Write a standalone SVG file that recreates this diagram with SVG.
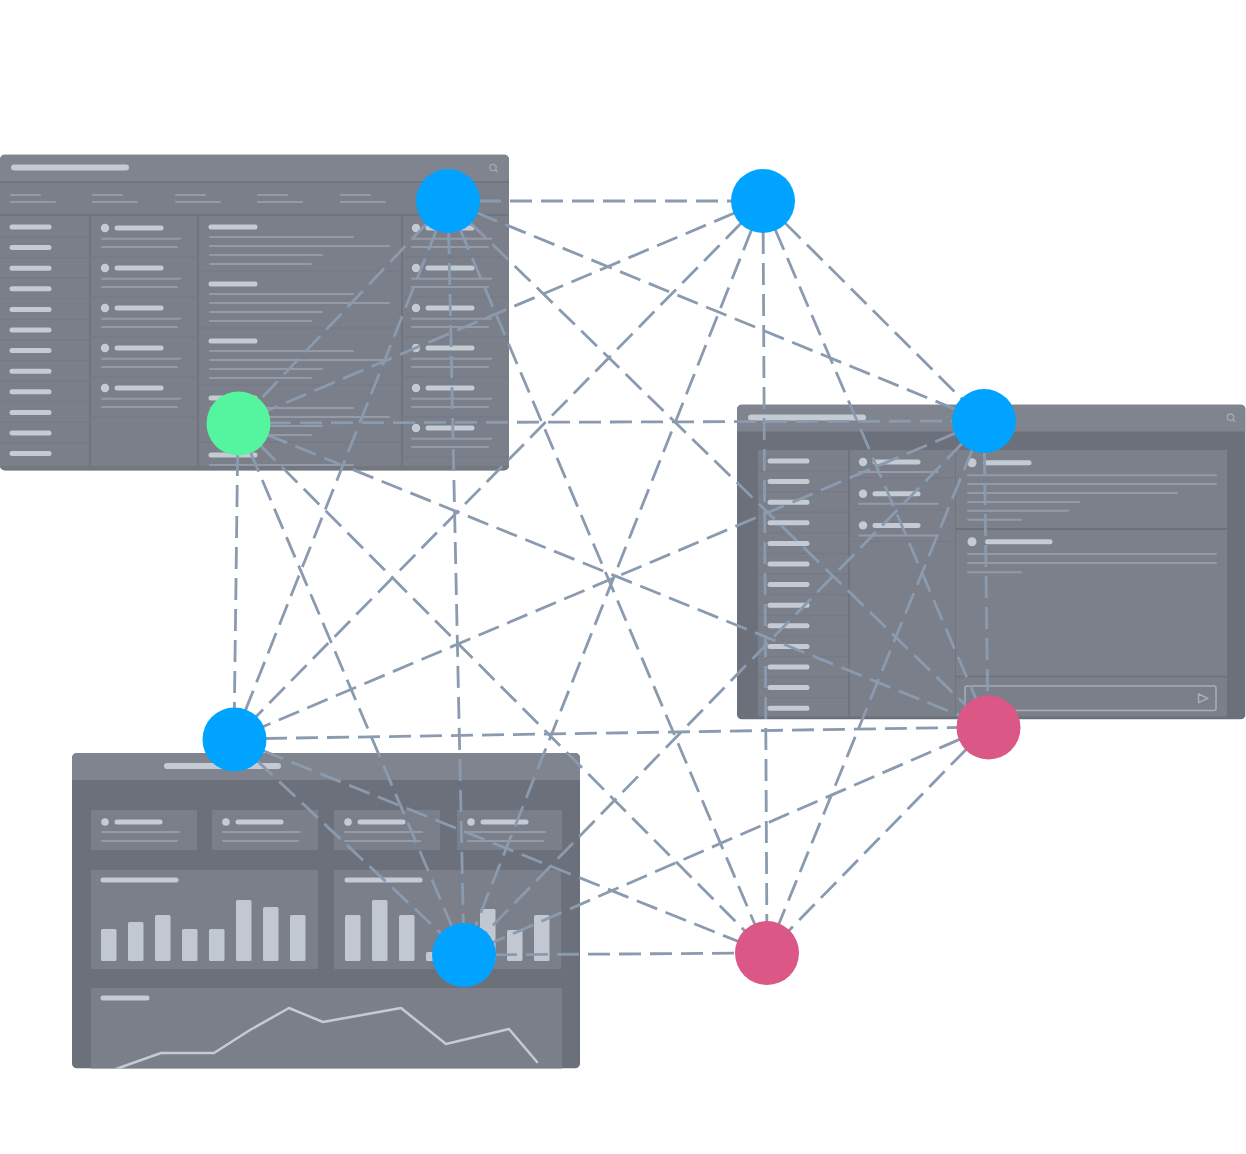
<svg xmlns="http://www.w3.org/2000/svg" width="1246" height="1154" viewBox="0 0 1246 1154">
<style>
.frame{fill:#6c707a}
.base{fill:#7b7f8a}
.hdr{fill:#80848e}
.card{fill:#7c808b}
.sep{stroke:#6d717b;stroke-width:1.5}
.rowsep{stroke:#757984;stroke-width:1}
.hb{stroke:#c4cbd3;stroke-width:5;stroke-linecap:round}
.tb{stroke:#c4cbd3;stroke-width:6;stroke-linecap:round}
.ln{stroke:#959ba6;stroke-width:2;stroke-linecap:round}
.dot{fill:#c4cbd3}
.bar{fill:#c1c8d1}
.ico{fill:none;stroke:#a3a9b3;stroke-width:1.3}
.edge{stroke:#8a9bb0;stroke-width:2.8;stroke-dasharray:22 9;fill:none}
.blue{fill:#00a3ff}
.green{fill:#55f5a0}
.pink{fill:#da5786}
</style>
<defs>
<clipPath id="cp1"><rect x="0" y="154.5" width="509" height="316" rx="5"/></clipPath>
<clipPath id="cp2"><rect x="737" y="404.5" width="508.5" height="315" rx="5"/></clipPath>
<clipPath id="cp3"><rect x="72" y="753" width="508" height="315.5" rx="5"/></clipPath>
</defs>
<rect width="1246" height="1154" fill="#ffffff"/>

<g id="screen-list" clip-path="url(#cp1)">
<rect x="0" y="154.5" width="509" height="316" class="base"/>
<rect x="0" y="154.5" width="509" height="27.5" class="hdr"/>
<line x1="0" y1="182" x2="509" y2="182" class="sep"/>
<line x1="0" y1="215" x2="509" y2="215" class="sep"/>
<line x1="14" y1="167.6" x2="126" y2="167.6" class="tb"/>
<circle cx="493" cy="167.5" r="3.2" class="ico"/>
<line x1="495.3" y1="169.8" x2="497.5" y2="172" class="ico"/>
<g>
<line x1="11" y1="195" x2="40" y2="195" class="ln"/><line x1="11" y1="202" x2="55" y2="202" class="ln"/>
<line x1="93" y1="195" x2="122" y2="195" class="ln"/><line x1="93" y1="202" x2="137" y2="202" class="ln"/>
<line x1="176" y1="195" x2="205" y2="195" class="ln"/><line x1="176" y1="202" x2="220" y2="202" class="ln"/>
<line x1="258" y1="195" x2="287" y2="195" class="ln"/><line x1="258" y1="202" x2="302" y2="202" class="ln"/>
<line x1="341" y1="195" x2="370" y2="195" class="ln"/><line x1="341" y1="202" x2="385" y2="202" class="ln"/>
<line x1="423" y1="195" x2="452" y2="195" class="ln"/><line x1="423" y1="202" x2="467" y2="202" class="ln"/>
</g>
<line x1="90" y1="215" x2="90" y2="470" class="sep"/>
<line x1="198" y1="215" x2="198" y2="470" class="sep"/>
<line x1="402" y1="215" x2="402" y2="470" class="sep"/>
<g>
<line x1="0" y1="237" x2="90" y2="237" class="rowsep"/><line x1="0" y1="257.6" x2="90" y2="257.6" class="rowsep"/>
<line x1="0" y1="278.2" x2="90" y2="278.2" class="rowsep"/><line x1="0" y1="298.8" x2="90" y2="298.8" class="rowsep"/>
<line x1="0" y1="319.4" x2="90" y2="319.4" class="rowsep"/><line x1="0" y1="340" x2="90" y2="340" class="rowsep"/>
<line x1="0" y1="360.6" x2="90" y2="360.6" class="rowsep"/><line x1="0" y1="381.2" x2="90" y2="381.2" class="rowsep"/>
<line x1="0" y1="401.8" x2="90" y2="401.8" class="rowsep"/><line x1="0" y1="422.4" x2="90" y2="422.4" class="rowsep"/>
<line x1="0" y1="443" x2="90" y2="443" class="rowsep"/>
<line x1="12" y1="227" x2="49" y2="227" class="hb"/><line x1="12" y1="247.6" x2="49" y2="247.6" class="hb"/>
<line x1="12" y1="268.2" x2="49" y2="268.2" class="hb"/><line x1="12" y1="288.8" x2="49" y2="288.8" class="hb"/>
<line x1="12" y1="309.4" x2="49" y2="309.4" class="hb"/><line x1="12" y1="330" x2="49" y2="330" class="hb"/>
<line x1="12" y1="350.6" x2="49" y2="350.6" class="hb"/><line x1="12" y1="371.2" x2="49" y2="371.2" class="hb"/>
<line x1="12" y1="391.8" x2="49" y2="391.8" class="hb"/><line x1="12" y1="412.4" x2="49" y2="412.4" class="hb"/>
<line x1="12" y1="433" x2="49" y2="433" class="hb"/><line x1="12" y1="453.6" x2="49" y2="453.6" class="hb"/>
</g>
<g>
<line x1="90" y1="257" x2="198" y2="257" class="rowsep"/><line x1="90" y1="297" x2="198" y2="297" class="rowsep"/>
<line x1="90" y1="337" x2="198" y2="337" class="rowsep"/><line x1="90" y1="377" x2="198" y2="377" class="rowsep"/>
<line x1="90" y1="417" x2="198" y2="417" class="rowsep"/>
<circle cx="105" cy="228" r="4.2" class="dot"/><line x1="117" y1="228" x2="161" y2="228" class="hb"/>
<line x1="102" y1="238.7" x2="180" y2="238.7" class="ln"/><line x1="102" y1="247" x2="177" y2="247" class="ln"/>
<circle cx="105" cy="268" r="4.2" class="dot"/><line x1="117" y1="268" x2="161" y2="268" class="hb"/>
<line x1="102" y1="278.7" x2="180" y2="278.7" class="ln"/><line x1="102" y1="287" x2="177" y2="287" class="ln"/>
<circle cx="105" cy="308" r="4.2" class="dot"/><line x1="117" y1="308" x2="161" y2="308" class="hb"/>
<line x1="102" y1="318.7" x2="180" y2="318.7" class="ln"/><line x1="102" y1="327" x2="177" y2="327" class="ln"/>
<circle cx="105" cy="348" r="4.2" class="dot"/><line x1="117" y1="348" x2="161" y2="348" class="hb"/>
<line x1="102" y1="358.7" x2="180" y2="358.7" class="ln"/><line x1="102" y1="367" x2="177" y2="367" class="ln"/>
<circle cx="105" cy="388" r="4.2" class="dot"/><line x1="117" y1="388" x2="161" y2="388" class="hb"/>
<line x1="102" y1="398.7" x2="180" y2="398.7" class="ln"/><line x1="102" y1="407" x2="177" y2="407" class="ln"/>
</g>
<g>
<line x1="198" y1="271" x2="402" y2="271" class="rowsep"/><line x1="198" y1="328" x2="402" y2="328" class="rowsep"/>
<line x1="198" y1="385" x2="402" y2="385" class="rowsep"/><line x1="198" y1="442" x2="402" y2="442" class="rowsep"/>
<line x1="211" y1="227" x2="255" y2="227" class="hb"/>
<line x1="210" y1="237" x2="353" y2="237" class="ln"/><line x1="210" y1="246" x2="389" y2="246" class="ln"/>
<line x1="210" y1="255" x2="322" y2="255" class="ln"/><line x1="210" y1="264" x2="311" y2="264" class="ln"/>
<line x1="211" y1="284" x2="255" y2="284" class="hb"/>
<line x1="210" y1="294" x2="353" y2="294" class="ln"/><line x1="210" y1="303" x2="389" y2="303" class="ln"/>
<line x1="210" y1="312" x2="322" y2="312" class="ln"/><line x1="210" y1="321" x2="311" y2="321" class="ln"/>
<line x1="211" y1="341" x2="255" y2="341" class="hb"/>
<line x1="210" y1="351" x2="353" y2="351" class="ln"/><line x1="210" y1="360" x2="389" y2="360" class="ln"/>
<line x1="210" y1="369" x2="322" y2="369" class="ln"/><line x1="210" y1="378" x2="311" y2="378" class="ln"/>
<line x1="211" y1="398" x2="255" y2="398" class="hb"/>
<line x1="210" y1="408" x2="353" y2="408" class="ln"/><line x1="210" y1="417" x2="389" y2="417" class="ln"/>
<line x1="210" y1="426" x2="322" y2="426" class="ln"/><line x1="210" y1="435" x2="311" y2="435" class="ln"/>
<line x1="211" y1="455" x2="255" y2="455" class="hb"/>
<line x1="210" y1="465" x2="353" y2="465" class="ln"/>
</g>
<g>
<line x1="402" y1="257" x2="509" y2="257" class="rowsep"/><line x1="402" y1="297" x2="509" y2="297" class="rowsep"/>
<line x1="402" y1="337" x2="509" y2="337" class="rowsep"/><line x1="402" y1="377" x2="509" y2="377" class="rowsep"/>
<line x1="402" y1="417" x2="509" y2="417" class="rowsep"/><line x1="402" y1="457" x2="509" y2="457" class="rowsep"/>
<circle cx="416" cy="228" r="4.2" class="dot"/><line x1="428" y1="228" x2="472" y2="228" class="hb"/>
<line x1="412" y1="238.7" x2="491" y2="238.7" class="ln"/><line x1="412" y1="247" x2="488" y2="247" class="ln"/>
<circle cx="416" cy="268" r="4.2" class="dot"/><line x1="428" y1="268" x2="472" y2="268" class="hb"/>
<line x1="412" y1="278.7" x2="491" y2="278.7" class="ln"/><line x1="412" y1="287" x2="488" y2="287" class="ln"/>
<circle cx="416" cy="308" r="4.2" class="dot"/><line x1="428" y1="308" x2="472" y2="308" class="hb"/>
<line x1="412" y1="318.7" x2="491" y2="318.7" class="ln"/><line x1="412" y1="327" x2="488" y2="327" class="ln"/>
<circle cx="416" cy="348" r="4.2" class="dot"/><line x1="428" y1="348" x2="472" y2="348" class="hb"/>
<line x1="412" y1="358.7" x2="491" y2="358.7" class="ln"/><line x1="412" y1="367" x2="488" y2="367" class="ln"/>
<circle cx="416" cy="388" r="4.2" class="dot"/><line x1="428" y1="388" x2="472" y2="388" class="hb"/>
<line x1="412" y1="398.7" x2="491" y2="398.7" class="ln"/><line x1="412" y1="407" x2="488" y2="407" class="ln"/>
<circle cx="416" cy="428" r="4.2" class="dot"/><line x1="428" y1="428" x2="472" y2="428" class="hb"/>
<line x1="412" y1="438.7" x2="491" y2="438.7" class="ln"/><line x1="412" y1="447" x2="488" y2="447" class="ln"/>
</g>
<rect x="0" y="466" width="509" height="5" fill="#73777f"/>
</g>

<g id="screen-chat" clip-path="url(#cp2)">
<rect x="737" y="404.5" width="508.5" height="315" class="frame"/>
<rect x="737" y="404.5" width="508.5" height="27" class="hdr"/>
<line x1="751" y1="417.6" x2="863" y2="417.6" class="tb"/>
<circle cx="1230.5" cy="417.2" r="3.2" class="ico"/>
<line x1="1232.8" y1="419.5" x2="1235" y2="421.7" class="ico"/>
<rect x="758" y="450" width="91" height="266.5" class="base"/>
<g>
<line x1="758" y1="471" x2="849" y2="471" class="rowsep"/><line x1="758" y1="491.6" x2="849" y2="491.6" class="rowsep"/>
<line x1="758" y1="512.2" x2="849" y2="512.2" class="rowsep"/><line x1="758" y1="532.8" x2="849" y2="532.8" class="rowsep"/>
<line x1="758" y1="553.4" x2="849" y2="553.4" class="rowsep"/><line x1="758" y1="574" x2="849" y2="574" class="rowsep"/>
<line x1="758" y1="594.6" x2="849" y2="594.6" class="rowsep"/><line x1="758" y1="615.2" x2="849" y2="615.2" class="rowsep"/>
<line x1="758" y1="635.8" x2="849" y2="635.8" class="rowsep"/><line x1="758" y1="656.4" x2="849" y2="656.4" class="rowsep"/>
<line x1="758" y1="677" x2="849" y2="677" class="rowsep"/><line x1="758" y1="697.6" x2="849" y2="697.6" class="rowsep"/>
<line x1="770" y1="461" x2="807" y2="461" class="hb"/><line x1="770" y1="481.6" x2="807" y2="481.6" class="hb"/>
<line x1="770" y1="502.2" x2="807" y2="502.2" class="hb"/><line x1="770" y1="522.8" x2="807" y2="522.8" class="hb"/>
<line x1="770" y1="543.4" x2="807" y2="543.4" class="hb"/><line x1="770" y1="564" x2="807" y2="564" class="hb"/>
<line x1="770" y1="584.6" x2="807" y2="584.6" class="hb"/><line x1="770" y1="605.2" x2="807" y2="605.2" class="hb"/>
<line x1="770" y1="625.8" x2="807" y2="625.8" class="hb"/><line x1="770" y1="646.4" x2="807" y2="646.4" class="hb"/>
<line x1="770" y1="667" x2="807" y2="667" class="hb"/><line x1="770" y1="687.6" x2="807" y2="687.6" class="hb"/>
<line x1="770" y1="708.2" x2="807" y2="708.2" class="hb"/>
</g>
<rect x="849" y="450" width="107" height="266.5" class="base"/>
<line x1="849" y1="450" x2="849" y2="716.5" class="sep"/>
<line x1="956" y1="450" x2="956" y2="716.5" class="sep"/>
<g>
<line x1="849" y1="478" x2="956" y2="478" class="rowsep"/><line x1="849" y1="509.7" x2="956" y2="509.7" class="rowsep"/>
<line x1="849" y1="541.4" x2="956" y2="541.4" class="rowsep"/>
<circle cx="863" cy="462" r="4.2" class="dot"/><line x1="875" y1="462" x2="918" y2="462" class="hb"/>
<line x1="859" y1="472" x2="938" y2="472" class="ln"/>
<circle cx="863" cy="493.7" r="4.2" class="dot"/><line x1="875" y1="493.7" x2="918" y2="493.7" class="hb"/>
<line x1="859" y1="503.7" x2="938" y2="503.7" class="ln"/>
<circle cx="863" cy="525.4" r="4.2" class="dot"/><line x1="875" y1="525.4" x2="918" y2="525.4" class="hb"/>
<line x1="859" y1="535.4" x2="938" y2="535.4" class="ln"/>
</g>
<rect x="956" y="450" width="271" height="78" class="card"/>
<rect x="956" y="530" width="271" height="146" class="card"/>
<rect x="956" y="676" width="271" height="40.5" class="base"/>
<line x1="956" y1="676.5" x2="1227" y2="676.5" class="sep"/>
<circle cx="972" cy="462.7" r="4.5" class="dot"/>
<line x1="985.5" y1="462.7" x2="1029" y2="462.7" class="hb"/>
<line x1="968" y1="475.3" x2="1216" y2="475.3" class="ln"/>
<line x1="968" y1="484" x2="1216" y2="484" class="ln"/>
<line x1="968" y1="493" x2="1177" y2="493" class="ln"/>
<line x1="968" y1="502" x2="1079" y2="502" class="ln"/>
<line x1="968" y1="510.7" x2="1068" y2="510.7" class="ln"/>
<line x1="968" y1="519.7" x2="1021" y2="519.7" class="ln"/>
<circle cx="972" cy="541.7" r="4.5" class="dot"/>
<line x1="987.5" y1="541.7" x2="1050" y2="541.7" class="hb"/>
<line x1="968" y1="554" x2="1216" y2="554" class="ln"/>
<line x1="968" y1="563" x2="1216" y2="563" class="ln"/>
<line x1="968" y1="572.3" x2="1021" y2="572.3" class="ln"/>
<rect x="965" y="686" width="251" height="24.5" rx="2" fill="none" stroke="#a8afb9" stroke-width="1.5"/>
<polygon points="1198.5,694 1208,698.3 1198.5,702.7" fill="none" stroke="#a8afb9" stroke-width="1.4" stroke-linejoin="round"/>
</g>

<g id="screen-dashboard" clip-path="url(#cp3)">
<rect x="72" y="753" width="508" height="315.5" class="frame"/>
<rect x="72" y="753" width="508" height="27" class="hdr"/>
<line x1="167" y1="766" x2="278" y2="766" class="tb"/>
<rect x="91" y="810" width="106" height="40" class="base"/>
<rect x="212" y="810" width="106" height="40" class="base"/>
<rect x="334" y="810" width="106" height="40" class="base"/>
<rect x="457" y="810" width="105" height="40" class="base"/>
<g>
<circle cx="105" cy="822" r="3.8" class="dot"/><line x1="117" y1="822" x2="160" y2="822" class="hb"/>
<line x1="102" y1="832" x2="179" y2="832" class="ln"/><line x1="102" y1="841" x2="177" y2="841" class="ln"/>
<circle cx="226" cy="822" r="3.8" class="dot"/><line x1="238" y1="822" x2="281" y2="822" class="hb"/>
<line x1="223" y1="832" x2="300" y2="832" class="ln"/><line x1="223" y1="841" x2="298" y2="841" class="ln"/>
<circle cx="348" cy="822" r="3.8" class="dot"/><line x1="360" y1="822" x2="403" y2="822" class="hb"/>
<line x1="345" y1="832" x2="422" y2="832" class="ln"/><line x1="345" y1="841" x2="420" y2="841" class="ln"/>
<circle cx="471" cy="822" r="3.8" class="dot"/><line x1="483" y1="822" x2="526" y2="822" class="hb"/>
<line x1="468" y1="832" x2="545" y2="832" class="ln"/><line x1="468" y1="841" x2="543" y2="841" class="ln"/>
</g>
<rect x="91" y="870" width="227" height="99" class="base"/>
<rect x="334" y="870" width="227" height="99" class="base"/>
<line x1="103" y1="880" x2="176" y2="880" class="hb"/>
<line x1="347" y1="880" x2="420" y2="880" class="hb"/>
<g>
<rect x="101" y="929" width="15.5" height="32" rx="1.5" class="bar"/>
<rect x="128" y="922" width="15.5" height="39" rx="1.5" class="bar"/>
<rect x="155" y="915" width="15.5" height="46" rx="1.5" class="bar"/>
<rect x="182" y="929" width="15.5" height="32" rx="1.5" class="bar"/>
<rect x="209" y="929" width="15.5" height="32" rx="1.5" class="bar"/>
<rect x="236" y="900" width="15.5" height="61" rx="1.5" class="bar"/>
<rect x="263" y="907" width="15.5" height="54" rx="1.5" class="bar"/>
<rect x="290" y="915" width="15.5" height="46" rx="1.5" class="bar"/>
<rect x="345" y="915" width="15.5" height="46" rx="1.5" class="bar"/>
<rect x="372" y="900" width="15.5" height="61" rx="1.5" class="bar"/>
<rect x="399" y="915" width="15.5" height="46" rx="1.5" class="bar"/>
<rect x="426" y="952" width="15.5" height="9" rx="1.5" class="bar"/>
<rect x="453" y="925" width="15.5" height="36" rx="1.5" class="bar"/>
<rect x="480" y="909" width="15.5" height="52" rx="1.5" class="bar"/>
<rect x="507" y="930" width="15.5" height="31" rx="1.5" class="bar"/>
<rect x="534" y="915" width="15.5" height="46" rx="1.5" class="bar"/>
</g>
<rect x="91" y="988" width="471" height="82" class="base"/>
<line x1="103" y1="998" x2="147" y2="998" class="hb"/>
<polyline points="116,1069 161,1053 214,1053 250,1030 289,1008 323,1022 401,1008 446,1044 509,1029 537,1062" fill="none" stroke="#c4cbd3" stroke-width="2.5" stroke-linejoin="round" stroke-linecap="round"/>
</g>

<g id="connectors">
<line class="edge" x1="448" y1="201" x2="763" y2="201"/>
<line class="edge" x1="448" y1="201" x2="238" y2="423"/>
<line class="edge" x1="448" y1="201" x2="984" y2="421"/>
<line class="edge" x1="448" y1="201" x2="234" y2="739"/>
<line class="edge" x1="448" y1="201" x2="988" y2="727"/>
<line class="edge" x1="448" y1="201" x2="464" y2="955"/>
<line class="edge" x1="448" y1="201" x2="767" y2="953"/>
<line class="edge" x1="763" y1="201" x2="238" y2="423"/>
<line class="edge" x1="763" y1="201" x2="984" y2="421"/>
<line class="edge" x1="763" y1="201" x2="234" y2="739"/>
<line class="edge" x1="763" y1="201" x2="988" y2="727"/>
<line class="edge" x1="763" y1="201" x2="464" y2="955"/>
<line class="edge" x1="763" y1="201" x2="767" y2="953"/>
<line class="edge" x1="238" y1="423" x2="984" y2="421"/>
<line class="edge" x1="238" y1="423" x2="234" y2="739"/>
<line class="edge" x1="238" y1="423" x2="988" y2="727"/>
<line class="edge" x1="238" y1="423" x2="464" y2="955"/>
<line class="edge" x1="238" y1="423" x2="767" y2="953"/>
<line class="edge" x1="984" y1="421" x2="234" y2="739"/>
<line class="edge" x1="984" y1="421" x2="988" y2="727"/>
<line class="edge" x1="984" y1="421" x2="464" y2="955"/>
<line class="edge" x1="984" y1="421" x2="767" y2="953"/>
<line class="edge" x1="234" y1="739" x2="988" y2="727"/>
<line class="edge" x1="234" y1="739" x2="464" y2="955"/>
<line class="edge" x1="234" y1="739" x2="767" y2="953"/>
<line class="edge" x1="988" y1="727" x2="464" y2="955"/>
<line class="edge" x1="988" y1="727" x2="767" y2="953"/>
<line class="edge" x1="464" y1="955" x2="767" y2="953"/>
</g>

<g id="node-a"><circle cx="448" cy="201" r="32" class="blue"/></g>
<g id="node-b"><circle cx="763" cy="201" r="32" class="blue"/></g>
<g id="node-c"><circle cx="238.5" cy="423.5" r="32" class="green"/></g>
<g id="node-d"><circle cx="984" cy="421" r="32" class="blue"/></g>
<g id="node-e"><circle cx="234.5" cy="739.5" r="32" class="blue"/></g>
<g id="node-f"><circle cx="988.5" cy="727.5" r="32" class="pink"/></g>
<g id="node-g"><circle cx="464" cy="955" r="32" class="blue"/></g>
<g id="node-h"><circle cx="767" cy="953" r="32" class="pink"/></g>
</svg>
